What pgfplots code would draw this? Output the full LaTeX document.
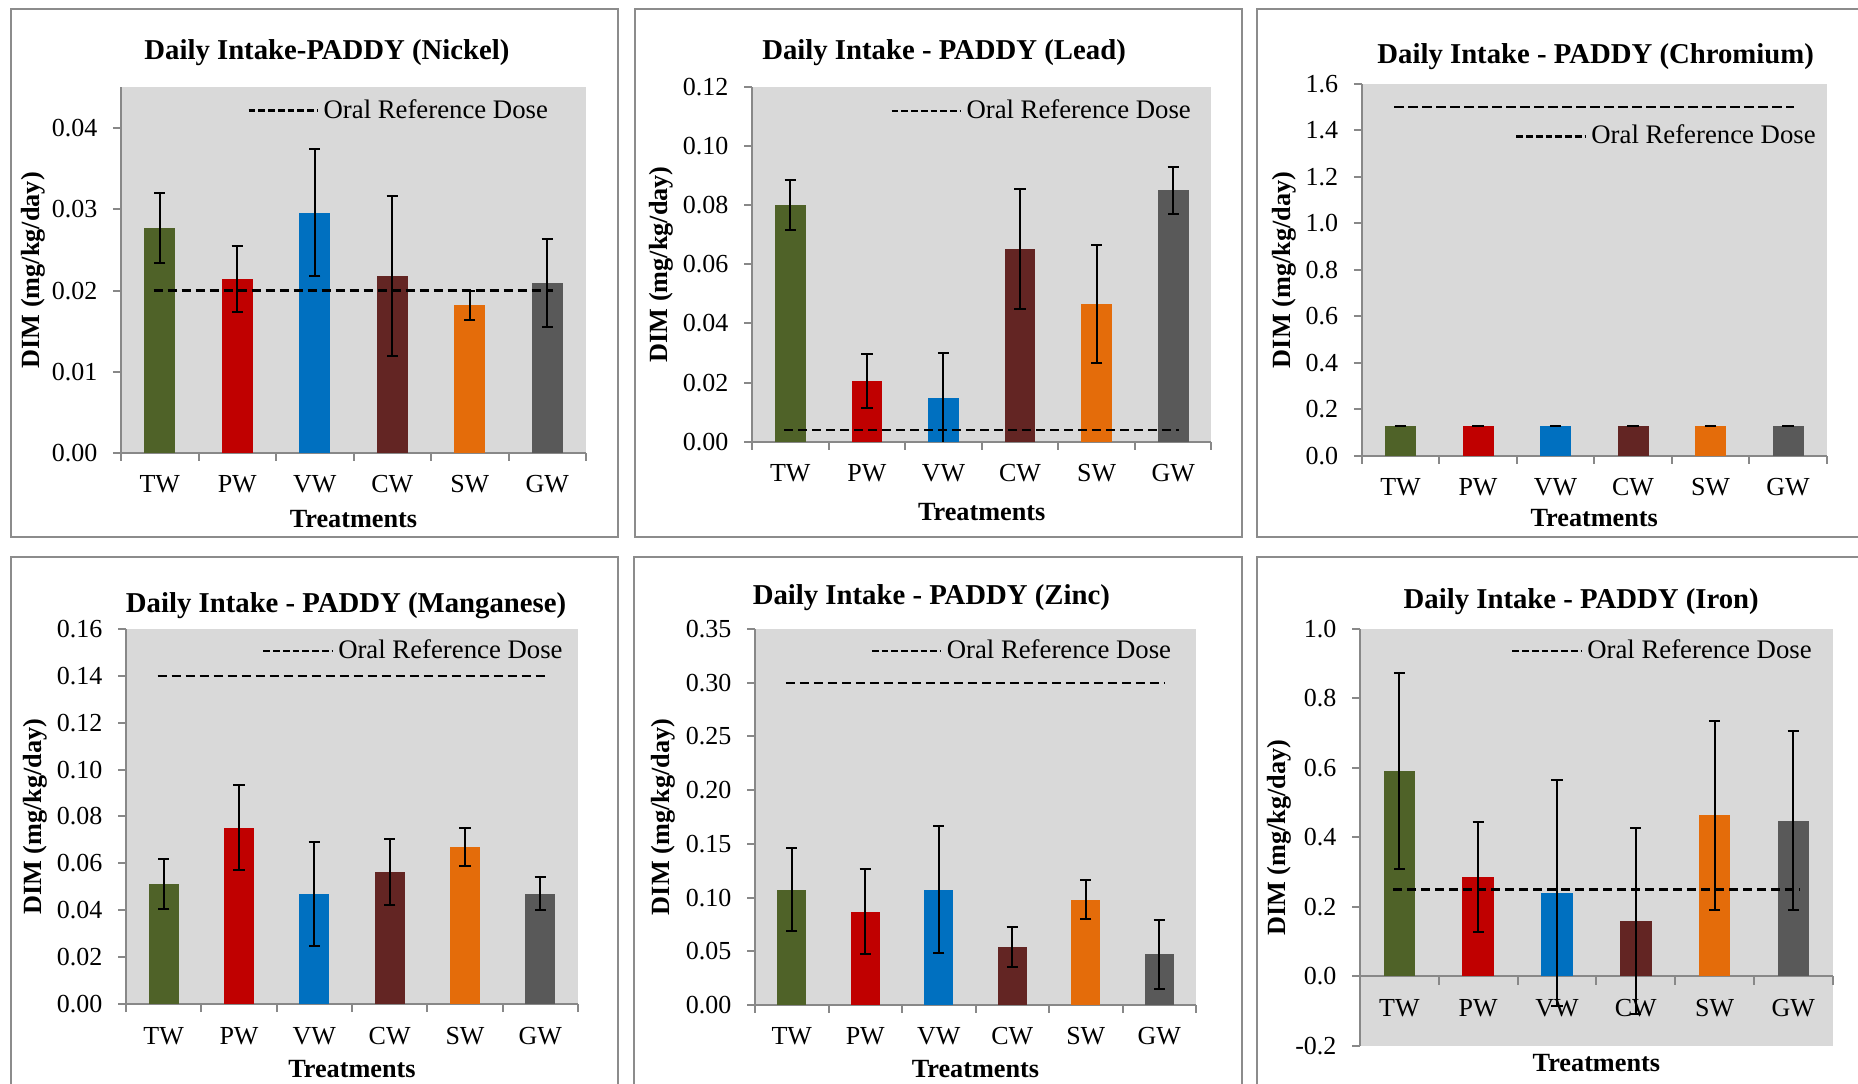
\documentclass[border=0pt]{standalone}
\usepackage{fontspec}
\setmainfont{Liberation Serif}
\usepackage{pgfplots}
\pgfplotsset{compat=1.18}

\definecolor{cTW}{HTML}{4F6228}
\definecolor{cPW}{HTML}{C00000}
\definecolor{cVW}{HTML}{0070C0}
\definecolor{cCW}{HTML}{632523}
\definecolor{cSW}{HTML}{E46C0A}
\definecolor{cGW}{HTML}{595959}
\definecolor{bg}{HTML}{D9D9D9}
\definecolor{axgray}{HTML}{888888}
\definecolor{framegray}{HTML}{8C8C8C}

\pgfplotsset{
  dim/.style={
    scale only axis,
    axis lines*=left,
    axis line style={axgray, line width=0.8pt},
    axis background/.style={fill=bg},
    xmin=0.5, xmax=6.5,
    xtick={0.5,1.5,2.5,3.5,4.5,5.5,6.5}, xticklabels={},
    extra x ticks={1,2,3,4,5,6},
    extra x tick labels={TW,PW,VW,CW,SW,GW},
    extra x tick style={major tick length=0pt},
    tick align=outside,
    major tick length=3.2pt,
    tick style={axgray, line width=0.8pt},
    tick label style={font=\fontsize{10.4}{12}\selectfont},
    xticklabel style={anchor=base, yshift=-16pt},
    yticklabel style={xshift=-2.7pt},
    scaled y ticks=false,
    /pgf/number format/fixed,
    /pgf/number format/fixed zerofill,
    /pgf/number format/assume math mode=true,
    label style={font=\bfseries\fontsize{10.5}{12}\selectfont},
    title style={font=\bfseries\fontsize{11.5}{13}\selectfont, anchor=base},
    xlabel={Treatments}, ylabel={DIM (mg/kg/day)},
    ylabel style={anchor=center},
    xlabel style={anchor=base},
    legend style={draw=none, fill=none, inner sep=0pt, anchor=east,
      font=\fontsize{10.7}{12}\selectfont},
    legend image code/.code={\draw[black, line width=1pt, dash pattern=on 2.7pt off 1.2pt] (0pt,0pt) -- (27.5pt,0pt);},
  },
  dbar/.style={ybar, bar width=0.4, bar shift=0pt, draw=none, fill=#1, forget plot,
    error bars/.cd, y dir=both, y explicit,
    error bar style={black, line width=0.8pt},
    error mark options={rotate=90, black, line width=0.8pt, mark size=2.25pt}},
  rfd/.style={black, line width=0.9pt, dash pattern=on 3.7pt off 1.9pt},
}

\begin{document}
\begin{tikzpicture}
\useasboundingbox (0pt,0pt) rectangle (743.2pt,433.2pt);
\fill[white] (0pt,0pt) rectangle (743.2pt,433.2pt);

\draw[framegray, line width=0.8pt] (4.4pt,218.4pt) rectangle (247.2pt,429.7pt);
\draw[framegray, line width=0.8pt] (254pt,218.4pt) rectangle (496.8pt,429.7pt);
\draw[framegray, line width=0.8pt] (502.8pt,218.4pt) rectangle (760pt,429.7pt);
\draw[framegray, line width=0.8pt] (4.4pt,-6.8pt) rectangle (247.2pt,210.4pt);
\draw[framegray, line width=0.8pt] (253.6pt,-6.8pt) rectangle (496.8pt,210.4pt);
\draw[framegray, line width=0.8pt] (502.8pt,-6.8pt) rectangle (760pt,210.4pt);

% Nickel
\begin{axis}[dim, at={(48.4pt,252pt)}, anchor=south west, width=186pt, height=146.2pt,
  ymin=0, ymax=0.045, ytick={0,0.01,0.02,0.03,0.04},
  /pgf/number format/precision=2,
  title={Daily Intake-PADDY (Nickel)},
  title style={at={(axis description cs:0.443,1)}, yshift=5pt},
  xlabel style={at={(axis description cs:0.5,0)}, yshift=-29.8pt},
  ylabel style={at={(axis description cs:-0.1876,0.5)}},
  legend style={at={(axis description cs:0.930,0.937)}}]
\addplot[dbar=cTW] coordinates {(1,0.0277) +- (0,0.0043)};
\addplot[dbar=cPW] coordinates {(2,0.0214) +- (0,0.0041)};
\addplot[dbar=cVW] coordinates {(3,0.0296) +- (0,0.0078)};
\addplot[dbar=cCW] coordinates {(4,0.0218) +- (0,0.0098)};
\addplot[dbar=cSW] coordinates {(5,0.0182) +- (0,0.0018)};
\addplot[dbar=cGW] coordinates {(6,0.0209) +- (0,0.0054)};
\addplot[rfd] coordinates {(0.92,0.02) (6.08,0.02)};
\addlegendentry{Oral Reference Dose}
\end{axis}

% Lead
\begin{axis}[dim, at={(300.8pt,256.5pt)}, anchor=south west, width=183.8pt, height=141.9pt,
  ymin=0, ymax=0.12, ytick={0,0.02,0.04,0.06,0.08,0.10,0.12},
  /pgf/number format/precision=2,
  title={Daily Intake - PADDY (Lead)},
  title style={at={(axis description cs:0.418,1)}, yshift=4.8pt},
  xlabel style={at={(axis description cs:0.5,0)}, yshift=-31.4pt},
  ylabel style={at={(axis description cs:-0.198,0.5)}},
  legend style={at={(axis description cs:0.967,0.932)}}]
\addplot[dbar=cTW] coordinates {(1,0.0800) +- (0,0.0084)};
\addplot[dbar=cPW] coordinates {(2,0.0206) +- (0,0.0092)};
\addplot[dbar=cVW] coordinates {(3,0.0148) +- (0,0.0153)};
\addplot[dbar=cCW] coordinates {(4,0.0652) +- (0,0.0202)};
\addplot[dbar=cSW] coordinates {(5,0.0465) +- (0,0.0199)};
\addplot[dbar=cGW] coordinates {(6,0.0851) +- (0,0.0079)};
\addplot[rfd] coordinates {(0.92,0.004) (6.08,0.004)};
\addlegendentry{Oral Reference Dose}
\end{axis}

% Chromium
\begin{axis}[dim, at={(544.7pt,250.8pt)}, anchor=south west, width=186pt, height=148.8pt,
  ymin=0, ymax=1.6, ytick={0,0.2,0.4,0.6,0.8,1.0,1.2,1.4,1.6},
  /pgf/number format/precision=1,
  title={Daily Intake - PADDY (Chromium)},
  title style={at={(axis description cs:0.503,1)}, yshift=2.2pt},
  xlabel style={at={(axis description cs:0.5,0)}, yshift=-28.2pt},
  ylabel style={at={(axis description cs:-0.1667,0.5)}},
  legend style={at={(axis description cs:0.988,0.859)}}]
\addplot[dbar=cTW] coordinates {(1,0.130) +- (0,0.001)};
\addplot[dbar=cPW] coordinates {(2,0.130) +- (0,0.001)};
\addplot[dbar=cVW] coordinates {(3,0.130) +- (0,0.001)};
\addplot[dbar=cCW] coordinates {(4,0.130) +- (0,0.001)};
\addplot[dbar=cSW] coordinates {(5,0.130) +- (0,0.001)};
\addplot[dbar=cGW] coordinates {(6,0.130) +- (0,0.001)};
\addplot[rfd] coordinates {(0.92,1.5) (6.08,1.5)};
\addlegendentry{Oral Reference Dose}
\end{axis}

% Manganese
\begin{axis}[dim, at={(50.4pt,31.6pt)}, anchor=south west, width=180.8pt, height=150pt,
  ymin=0, ymax=0.16, ytick={0,0.02,0.04,0.06,0.08,0.10,0.12,0.14,0.16},
  /pgf/number format/precision=2,
  title={Daily Intake - PADDY (Manganese)},
  title style={at={(axis description cs:0.487,1)}, yshift=0.4pt},
  xlabel style={at={(axis description cs:0.5,0)}, yshift=-29.5pt},
  ylabel style={at={(axis description cs:-0.2013,0.5)}},
  legend style={at={(axis description cs:0.978,0.941)}}]
\addplot[dbar=cTW] coordinates {(1,0.0512) +- (0,0.0106)};
\addplot[dbar=cPW] coordinates {(2,0.0753) +- (0,0.0183)};
\addplot[dbar=cVW] coordinates {(3,0.0471) +- (0,0.0222)};
\addplot[dbar=cCW] coordinates {(4,0.0563) +- (0,0.0139)};
\addplot[dbar=cSW] coordinates {(5,0.0670) +- (0,0.0080)};
\addplot[dbar=cGW] coordinates {(6,0.0471) +- (0,0.0070)};
\addplot[rfd] coordinates {(0.92,0.14) (6.08,0.14)};
\addlegendentry{Oral Reference Dose}
\end{axis}

% Zinc
\begin{axis}[dim, at={(302pt,31.2pt)}, anchor=south west, width=176.4pt, height=150.4pt,
  ymin=0, ymax=0.35, ytick={0,0.05,0.10,0.15,0.20,0.25,0.30,0.35},
  /pgf/number format/precision=2,
  title={Daily Intake - PADDY (Zinc)},
  title style={at={(axis description cs:0.40,1)}, yshift=3.9pt},
  xlabel style={at={(axis description cs:0.5,0)}, yshift=-29.2pt},
  ylabel style={at={(axis description cs:-0.207,0.5)}},
  legend style={at={(axis description cs:0.956,0.941)}}]
\addplot[dbar=cTW] coordinates {(1,0.1075) +- (0,0.0384)};
\addplot[dbar=cPW] coordinates {(2,0.0868) +- (0,0.0397)};
\addplot[dbar=cVW] coordinates {(3,0.1075) +- (0,0.0594)};
\addplot[dbar=cCW] coordinates {(4,0.0538) +- (0,0.0188)};
\addplot[dbar=cSW] coordinates {(5,0.0981) +- (0,0.0180)};
\addplot[dbar=cGW] coordinates {(6,0.0473) +- (0,0.0322)};
\addplot[rfd] coordinates {(0.92,0.30) (6.08,0.30)};
\addlegendentry{Oral Reference Dose}
\end{axis}

% Iron
\begin{axis}[dim, at={(544pt,14.8pt)}, anchor=south west, width=189.1pt, height=166.8pt,
  axis x line*=middle, axis y line*=left,
  ymin=-0.2, ymax=1.0, ytick={-0.2,0,0.2,0.4,0.6,0.8,1.0},
  /pgf/number format/precision=1,
  title={Daily Intake - PADDY (Iron)},
  title style={at={(axis description cs:0.468,1)}, yshift=2.2pt},
  xlabel style={at={(axis description cs:0.5,0)}, yshift=-10pt},
  ylabel style={at={(axis description cs:-0.1708,0.5)}},
  legend style={at={(axis description cs:0.967,0.947)}}]
\addplot[dbar=cTW] coordinates {(1,0.591) +- (0,0.281)};
\addplot[dbar=cPW] coordinates {(2,0.287) +- (0,0.159)};
\addplot[dbar=cVW] coordinates {(3,0.241) +- (0,0.325)};
\addplot[dbar=cCW] coordinates {(4,0.160) +- (0,0.267)};
\addplot[dbar=cSW] coordinates {(5,0.4635) +- (0,0.273)};
\addplot[dbar=cGW] coordinates {(6,0.448) +- (0,0.258)};
\addplot[rfd] coordinates {(0.92,0.25) (6.08,0.25)};
\addlegendentry{Oral Reference Dose}
\end{axis}
\end{tikzpicture}
\end{document}
